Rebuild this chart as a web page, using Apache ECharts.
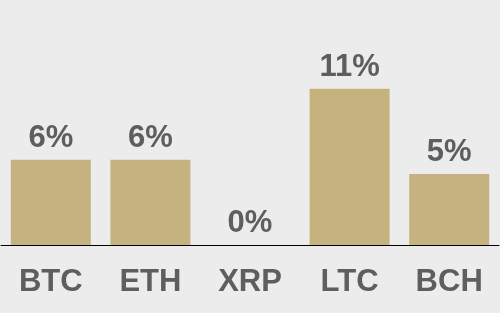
<!DOCTYPE html>
<html><head><meta charset="utf-8">
<script src="https://cdn.jsdelivr.net/npm/echarts@6/dist/echarts.min.js"></script>
<style>html,body{margin:0;padding:0;background:#ececec;}#c{width:500px;height:313px;}</style>
</head><body><div id="c"></div>
<script>
const categories = ['BTC', 'ETH', 'XRP', 'LTC', 'BCH'];
const values = [6, 6, 0, 11, 5];
const FONT = '"Liberation Sans", Arial, sans-serif';
const chart = echarts.init(document.getElementById('c'), null, {renderer: 'canvas'});
chart.setOption({
  backgroundColor: '#ececec',
  animation: false,
  grid: {left: 1, right: 1, top: 0, bottom: 68, containLabel: false},
  xAxis: {
    type: 'category', data: categories,
    axisLine: {lineStyle: {color: '#000', width: 1}},
    axisTick: {show: false},
    axisLabel: {color: '#5e5e5e', fontSize: 31, fontWeight: 'bold', fontFamily: FONT, margin: 22}
  },
  yAxis: {type: 'value', min: 0, max: 17.25, show: false, splitLine: {show: false}},
  series: [{
    type: 'bar', data: values, barWidth: 80,
    itemStyle: {color: '#c5b27e'},
    label: {show: true, position: 'top', distance: 6, formatter: '{c}%', color: '#5e5e5e', fontSize: 31, fontWeight: 'bold', fontFamily: FONT}
  }]
});
</script></body></html>
